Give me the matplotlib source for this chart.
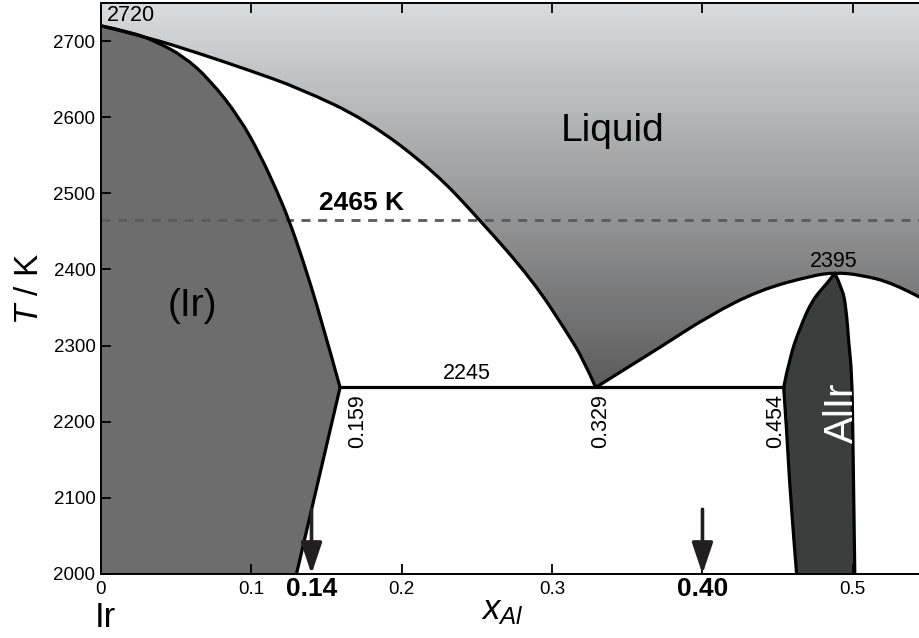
import numpy as np
import matplotlib
matplotlib.use("Agg")
import matplotlib.pyplot as plt
from matplotlib.patches import PathPatch
from matplotlib.path import Path
from matplotlib.colors import LinearSegmentedColormap

plt.rcParams['font.family'] = ['Liberation Sans', 'DejaVu Sans']
plt.rcParams['mathtext.fontset'] = 'custom'
plt.rcParams['mathtext.it'] = 'Liberation Sans:italic'
plt.rcParams['mathtext.rm'] = 'Liberation Sans'
plt.rcParams['lines.scale_dashes'] = False

# ---------------- data ----------------
x_range = [0.0, 0.544]
T_range = [2000, 2750]

# liquidus, Ir-rich side (from pure Ir melting point to eutectic)
liq_left_x = [0.000, 0.031, 0.065, 0.098, 0.132, 0.177, 0.221, 0.252, 0.287, 0.310, 0.321, 0.329]
liq_left_T = [2720, 2705, 2684, 2662, 2638, 2596, 2530, 2465, 2386, 2317, 2281, 2245]

# liquidus, AlIr side (eutectic -> congruent maximum -> right edge)
liq_right_x = [0.329, 0.350, 0.372, 0.405, 0.438, 0.473, 0.488, 0.505, 0.527, 0.544]
liq_right_T = [2245, 2271, 2298, 2340, 2373, 2392, 2396, 2393, 2382, 2364]

# solidus of (Ir)
ir_sol_x = [0.000, 0.020, 0.037, 0.055, 0.072, 0.092, 0.106, 0.117, 0.125, 0.134, 0.146, 0.159]
ir_sol_T = [2720, 2712, 2699, 2680, 2650, 2600, 2550, 2503, 2465, 2414, 2338, 2245]
# solvus of (Ir)
ir_solvus_x = [0.159, 0.130]
ir_solvus_T = [2245, 2000]

# AlIr phase boundaries
alir_low_x = [0.4626, 0.4585, 0.456, 0.454]
alir_low_T = [2000, 2100, 2189, 2245]
alir_up_x = [0.454, 0.458, 0.465, 0.473, 0.483, 0.488]
alir_up_T = [2245, 2285, 2324, 2360, 2382, 2395]
alir_right_x = [0.488, 0.493, 0.4955, 0.4973, 0.4993, 0.500, 0.5013]
alir_right_T = [2395, 2375, 2350, 2303, 2264, 2189, 2000]

# invariant points / annotations
T_melt_Ir = 2720
T_eutectic = 2245
x_eutectic_pts = [0.159, 0.329, 0.454]
eut_labels = ['0.159', '0.329', '0.454']
T_congruent = 2395
T_dashed = 2465
arrow_x = [0.14, 0.40]

xtick_pos = [0, 0.1, 0.2, 0.3, 0.4, 0.5]
xtick_lab = ['0', '0.1', '0.2', '0.3', '0.40', '0.5']
ytick_pos = [2000, 2100, 2200, 2300, 2400, 2500, 2600, 2700]


def smooth_piece(xs, ys):
    """Quadratic Bezier path using the read points as control points."""
    p = np.column_stack([xs, ys]).astype(float)
    n = len(p)
    verts = [p[0]]
    codes = [Path.MOVETO]
    if n == 2:
        verts.append(p[1])
        codes.append(Path.LINETO)
        return verts, codes
    for i in range(1, n - 1):
        end = (p[i] + p[i + 1]) / 2 if i < n - 2 else p[i + 1]
        verts += [p[i], end]
        codes += [Path.CURVE3, Path.CURVE3]
    return verts, codes


def join_pieces(pieces, close=False):
    verts, codes = [], []
    for k, (v, c) in enumerate(pieces):
        if k > 0:
            c = [Path.LINETO] + list(c[1:])
        verts += list(v)
        codes += list(c)
    if close:
        verts.append(verts[0])
        codes.append(Path.CLOSEPOLY)
    return Path(np.array(verts), codes)


liq_L = smooth_piece(liq_left_x, liq_left_T)
liq_R = smooth_piece(liq_right_x, liq_right_T)
sol = smooth_piece(ir_sol_x, ir_sol_T)
solvus = smooth_piece(ir_solvus_x, ir_solvus_T)
al_low = smooth_piece(alir_low_x, alir_low_T)
al_up = smooth_piece(alir_up_x, alir_up_T)
al_r = smooth_piece(alir_right_x, alir_right_T)

# ---------------- figure ----------------
fig = plt.figure(figsize=(9.19, 6.38), dpi=100)
ax = fig.add_axes([101 / 919, 1 - 574 / 638, 1 - 101 / 919, (574 - 3) / 638])

# liquid region with vertical gradient
corner = ([[x_range[1], T_range[1]], [x_range[0], T_range[1]]], [Path.MOVETO, Path.LINETO])
liq_path = join_pieces([liq_L, liq_R, corner], close=True)
liq_patch = PathPatch(liq_path, facecolor='none', edgecolor='none')
ax.add_patch(liq_patch)
cmap = LinearSegmentedColormap.from_list('liq', ['#5c5c5d', '#dadbdc'])
grad = np.linspace(T_range[0], T_range[1], 400).reshape(-1, 1)
im = ax.imshow(grad, extent=[x_range[0], x_range[1], T_range[0], T_range[1]], origin='lower',
               cmap=cmap, vmin=T_eutectic, vmax=T_range[1], aspect='auto',
               interpolation='bilinear', zorder=1)
im.set_clip_path(liq_patch)

# (Ir) solid solution
ir_corner = ([[x_range[0], T_range[0]]], [Path.MOVETO])
ir_path = join_pieces([sol, solvus, ir_corner], close=True)
ax.add_patch(PathPatch(ir_path, facecolor='#6d6d6d', edgecolor='none', zorder=1))

# AlIr phase
alir_path = join_pieces([al_low, al_up, al_r], close=True)
ax.add_patch(PathPatch(alir_path, facecolor='#3c3e3e', edgecolor='none', zorder=1))

# dashed isotherm
ax.axhline(T_dashed, color='#5a5a5a', lw=2.0, dashes=(6.5, 5.5), zorder=2)

# phase boundaries
for piece in [liq_L, liq_R, sol, solvus, al_low, al_up, al_r]:
    ax.add_patch(PathPatch(Path(np.array(piece[0]), piece[1]), facecolor='none',
                           edgecolor='black', lw=2.3, capstyle='round', joinstyle='round',
                           zorder=3))
ax.plot([x_eutectic_pts[0], x_eutectic_pts[-1]], [T_eutectic, T_eutectic],
        color='black', lw=2.3, solid_capstyle='round', zorder=3)

# arrows
for xa in arrow_x:
    ax.annotate('', xy=(xa, T_range[0]), xytext=(xa, 2085),
                arrowprops=dict(arrowstyle='-|>,head_length=0.95,head_width=0.32',
                                mutation_scale=20, lw=2.6, color='#231f20',
                                shrinkA=0, shrinkB=0), zorder=4)

# annotations
ax.text(0.004, 2733, str(T_melt_Ir), fontsize=15.5, ha='left', va='center', zorder=5)
ax.text(0.340, 2582, 'Liquid', fontsize=28, ha='center', va='center', zorder=5)
ax.text(0.061, 2352, '(Ir)', fontsize=28, ha='center', va='center', zorder=5)
ax.text(0.173, 2487, f'{T_dashed} K', fontsize=19, fontweight='bold', ha='center', va='center', zorder=5)
ax.text(0.243, 2264, str(T_eutectic), fontsize=15.5, ha='center', va='center', zorder=5)
ax.text(0.487, 2411, str(T_congruent), fontsize=15.5, ha='center', va='center', zorder=5)
for xe, lab, dx in zip(x_eutectic_pts, eut_labels, [0.0115, 0.003, -0.0055]):
    ax.text(xe + dx, 2201, lab, fontsize=15.5, rotation=90, ha='center', va='center', zorder=5)
ax.text(0.4925, 2212, 'AlIr', fontsize=29, rotation=90, color='white', ha='center', va='center', zorder=5)

# axes
ax.set_xlim(*x_range)
ax.set_ylim(*T_range)
ax.set_xticks(xtick_pos)
ax.set_xticklabels(xtick_lab)
ax.set_xticks([0.14], minor=True)
ax.set_xticklabels(['0.14'], minor=True)
ax.set_yticks(ytick_pos)
ax.tick_params(axis='both', which='major', direction='in', length=7, width=1.3,
               top=True, right=False, labelsize=13.5, color='black')
ax.tick_params(axis='x', which='major', pad=10.8)
ax.tick_params(axis='y', which='major', pad=4)
ax.tick_params(axis='x', which='minor', length=0, top=False, pad=10.8, labelsize=19)
for lbl in ax.get_xticklabels() + ax.get_xticklabels(minor=True):
    lbl.set_va('center')
    if lbl.get_text() in ('0.14', '0.40'):
        lbl.set_fontweight('bold')
        lbl.set_fontsize(19)

for s in ['left', 'bottom', 'top']:
    ax.spines[s].set_linewidth(1.4)
ax.spines['right'].set_visible(False)

ax.set_xlabel(r'$x_{Al}$', fontsize=25, va='center')
ax.xaxis.set_label_coords(0.491, -0.064)
ax.set_ylabel(r'$T$ / K', fontsize=24, va='center')
ax.yaxis.set_label_coords(-0.087, 0.5)

ax.text(-0.004, -0.0928, 'Ir', fontsize=25, ha='left', va='baseline',
        transform=ax.get_xaxis_transform())

fig.savefig('out.png', dpi=100)
